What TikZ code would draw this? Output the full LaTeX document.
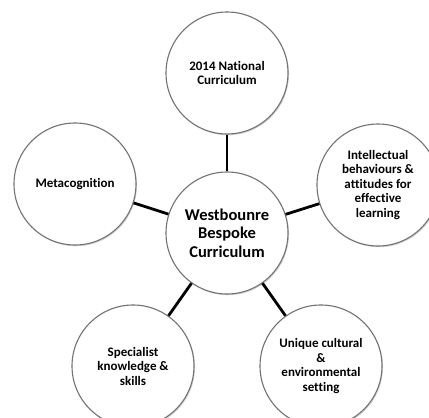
\documentclass[tikz,border=0pt]{standalone}
\usepackage{fontspec}
\setmainfont{Carlito}[Ligatures={NoCommon}]
\usetikzlibrary{shadows}

\tikzset{
    bubble/.style={circle, draw=black!55, line width=1.1pt, fill=white,
        minimum size=122pt, inner sep=0pt, align=center,
        font=\bfseries\fontsize{13}{14.5}\selectfont,
        drop shadow={opacity=0.35, shadow xshift=1pt, shadow yshift=-1.2pt}},
    hub/.style={bubble, font=\bfseries\fontsize{16.5}{18.3}\selectfont},
    link/.style={line width=2.8pt, black}
}

\begin{document}
\begin{tikzpicture}[x=1pt, y=1pt, yscale=-1]
    % Frame of the picture
    \clip (0,0) rectangle (429,418);
    \fill[white] (0,0) rectangle (429,418);

    % Define the positions of the circles
    \coordinate (hubPos) at (227, 233);
    \coordinate (nationalPos) at (227, 73);
    \coordinate (metaPos) at (75, 184);
    \coordinate (intellectPos) at (378, 185);
    \coordinate (specialistPos) at (133, 366);
    \coordinate (culturalPos) at (321, 366);

    % Draw the circles
    \node[hub] (hub) at (hubPos) {Westbounre\\Bespoke\\Curriculum};
    \node[bubble] (national) at (nationalPos) {2014 National\\Curriculum};
    \node[bubble] (meta) at (metaPos) {Metacognition};
    \node[bubble] (intellect) at (intellectPos) {Intellectual\\behaviours \&\\attitudes for\\effective\\learning};
    \node[bubble] (specialist) at (specialistPos) {Specialist\\knowledge \&\\skills};
    \node[bubble] (cultural) at (culturalPos) {Unique cultural\\\&\\environmental\\setting};

    % Draw the spokes
    \foreach \n in {national, meta, intellect, specialist, cultural}
        \draw[link] (hub) -- (\n);
\end{tikzpicture}
\end{document}
